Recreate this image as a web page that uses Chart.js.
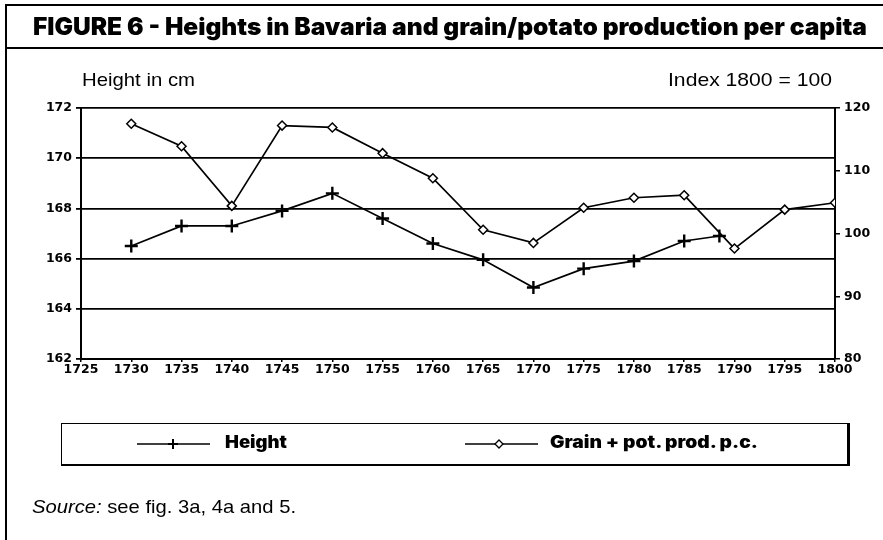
<!DOCTYPE html>
<html>
<head>
<meta charset="utf-8">
<script src="https://cdn.jsdelivr.net/npm/chart.js@4.4.1/dist/chart.umd.min.js"></script>
<style>
  html, body { margin: 0; padding: 0; background: #fff; }
  #wrap { position: relative; width: 883px; height: 540px; overflow: hidden; background: #fff; }
  #c { position: absolute; left: 0; top: 0; }
  .abs { position: absolute; white-space: nowrap; color: #000; }
  #frameLeft { position: absolute; left: 5px; top: 4px; width: 2px; height: 540px; background: #000; }
  #titleTop { position: absolute; left: 5px; top: 4px; width: 880px; height: 2px; background: #000; }
  #titleBot { position: absolute; left: 5px; top: 47px; width: 880px; height: 2px; background: #000; }
  #title { left: 33px; top: 12px; font-family: Inter, Roboto, "Liberation Sans", sans-serif; font-weight: 900; font-size: 24px; transform-origin: 0 0; }
  #ylab { left: 82px; top: 69px; font-family: "Liberation Sans Narrow", "Liberation Sans", sans-serif; font-size: 19px; transform-origin: 0 0; }
  #y2lab { left: 668px; top: 69px; font-family: "Liberation Sans Narrow", "Liberation Sans", sans-serif; font-size: 19px; transform-origin: 0 0; }
  #legend { position: absolute; left: 61px; top: 423px; width: 785px; height: 40px; border: 1px solid #000; border-right: 3px solid #000; border-bottom: 2px solid #000; }
  .leg { position: absolute; top: 0; height: 40px; }
  .legtxt { position: absolute; top: 8px; font-family: Inter, Roboto, "Liberation Sans", sans-serif; font-weight: 900; font-size: 17px; transform-origin: 0 0; }
  #source { left: 32px; top: 496px; font-family: "Liberation Sans Narrow", "Liberation Sans", sans-serif; font-size: 19px; transform-origin: 0 0; }
</style>
</head>
<body>
<div id="wrap">
  <canvas id="c" width="883" height="540"></canvas>
  <div id="frameLeft"></div>
  <div id="titleTop"></div>
  <div id="titleBot"></div>
  <div id="title" class="abs" data-w="834">FIGURE 6 - Heights in Bavaria and grain/potato production per capita</div>
  <div id="ylab" class="abs" data-w="113">Height in cm</div>
  <div id="y2lab" class="abs" data-w="164">Index 1800 = 100</div>
  <div id="legend">
    <svg class="leg" style="left:75px" width="75" height="40">
      <line x1="0" y1="20" x2="73" y2="20" stroke="#000" stroke-width="1.5"/>
      <line x1="36" y1="15" x2="36" y2="25" stroke="#000" stroke-width="2"/>
      <line x1="31" y1="20" x2="41" y2="20" stroke="#000" stroke-width="2"/>
    </svg>
    <div class="legtxt abs" style="left:163px" data-w="62">Height</div>
    <svg class="leg" style="left:403px" width="75" height="40">
      <line x1="0" y1="20" x2="73" y2="20" stroke="#000" stroke-width="1.5"/>
      <polygon points="34,16 38,20 34,24 30,20" fill="#fff" stroke="#000" stroke-width="1.3"/>
    </svg>
    <div class="legtxt abs" style="left:488px" data-w="208">Grain + pot. prod. p.c.</div>
  </div>
  <div id="source" class="abs" data-w="264"><i>Source:</i> see fig. 3a, 4a and 5.</div>
</div>
<script>
// ---- data ----
const heightYears = [1730, 1735, 1740, 1745, 1750, 1755, 1760, 1765, 1770, 1775, 1780, 1785, 1788.5];
const heightValues = [166.5, 167.3, 167.3, 167.9, 168.6, 167.6, 166.6, 165.95, 164.85, 165.6, 165.9, 166.7, 166.9];
const grainYears = [1730, 1735, 1740, 1745, 1750, 1755, 1760, 1765, 1770, 1775, 1780, 1785, 1790, 1795, 1800];
const grainValues = [117.5, 113.9, 104.4, 117.2, 116.9, 112.8, 108.8, 100.6, 98.5, 104.1, 105.7, 106.1, 97.6, 103.8, 104.9];
const xTicks = [1725, 1730, 1735, 1740, 1745, 1750, 1755, 1760, 1765, 1770, 1775, 1780, 1785, 1790, 1795, 1800];
const leftTicks = [162, 164, 166, 168, 170, 172];
const rightTicks = [80, 90, 100, 110, 120];
const seriesNames = ["Height", "Grain + pot. prod. p.c."];

// fit overlay texts to measured widths
document.querySelectorAll('[data-w]').forEach(el => {
  const w = el.getBoundingClientRect().width;
  const target = parseFloat(el.dataset.w);
  if (w > 0) el.style.transform = 'scaleX(' + (target / w) + ')';
});

const tickFont = { family: '"DejaVu Sans", sans-serif', weight: 'bold', size: 12.5 };

new Chart(document.getElementById('c'), {
  type: 'line',
  data: {
    datasets: [
      {
        label: seriesNames[0],
        data: heightYears.map((x, i) => ({ x, y: heightValues[i] })),
        yAxisID: 'y',
        borderColor: '#000', borderWidth: 1.7,
        pointStyle: 'cross', pointRadius: 6.5, pointBorderWidth: 2.4,
        pointBorderColor: '#000', pointBackgroundColor: '#000',
        tension: 0
      },
      {
        label: seriesNames[1],
        data: grainYears.map((x, i) => ({ x, y: grainValues[i] })),
        yAxisID: 'y2',
        borderColor: '#000', borderWidth: 1.7,
        pointStyle: 'rectRot', pointRadius: 4.5, pointBorderWidth: 1.5,
        pointBorderColor: '#000', pointBackgroundColor: '#fff',
        tension: 0
      }
    ]
  },
  options: {
    responsive: false,
    animation: false,
    layout: { padding: { left: 46, right: 13, top: 108, bottom: 161 } },
    plugins: { legend: { display: false }, tooltip: { enabled: false } },
    scales: {
      x: {
        type: 'linear', min: 1725, max: 1800,
        afterBuildTicks: s => { s.ticks = xTicks.map(v => ({ value: v })); },
        afterFit: s => { s.height = 20; },
        ticks: { color: '#000', font: tickFont, padding: 0, maxRotation: 0, autoSkip: false, callback: v => String(v) },
        grid: { drawOnChartArea: false, drawTicks: true, tickLength: 3, color: '#000', lineWidth: 1.5 },
        border: { display: true, color: '#000', width: 2 }
      },
      y: {
        type: 'linear', position: 'left', min: 162, max: 172,
        afterBuildTicks: s => { s.ticks = leftTicks.map(v => ({ value: v })); },
        afterFit: s => { s.width = 35; },
        ticks: { color: '#000', font: tickFont, padding: 4 },
        grid: { color: '#000', lineWidth: 1.8, drawTicks: true, tickLength: 5 },
        border: { display: true, color: '#000', width: 2 }
      },
      y2: {
        type: 'linear', position: 'right', min: 80, max: 120,
        afterBuildTicks: s => { s.ticks = rightTicks.map(v => ({ value: v })); },
        afterFit: s => { s.width = 35; },
        ticks: { color: '#000', font: tickFont, padding: 4 },
        grid: { drawOnChartArea: false, color: '#000', lineWidth: 1.5, drawTicks: true, tickLength: 5 },
        border: { display: true, color: '#000', width: 2 }
      }
    }
  }
});
</script>
</body>
</html>
